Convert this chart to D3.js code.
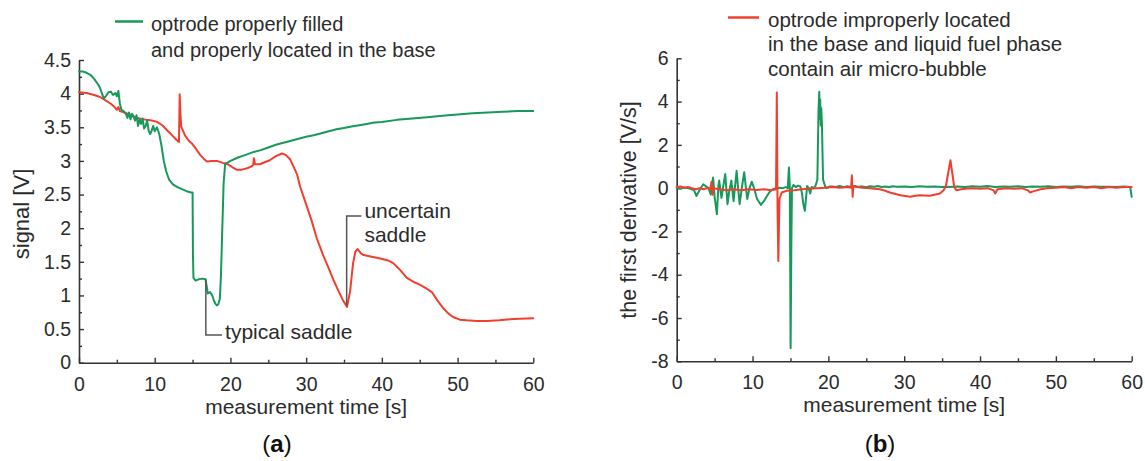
<!DOCTYPE html>
<html>
<head>
<meta charset="utf-8">
<script src="https://cdn.jsdelivr.net/npm/d3@7"></script>
<style>
  html, body { margin: 0; padding: 0; background: #fff; }
  svg { display: block; }
  text { font-family: "Liberation Sans", Arial, sans-serif; fill: #2b2b2b; }
</style>
</head>
<body>
<svg id="chart" width="1145" height="461"></svg>
<script>
// ---------- DATA ----------
const xTicksMajor = [0, 10, 20, 30, 40, 50, 60];
const xTicksMinor = [5, 15, 25, 35, 45, 55];
const signalTicks = [0, 0.5, 1, 1.5, 2, 2.5, 3, 3.5, 4, 4.5];
const signalTickLabels = ["0", "0.5", "1", "1.5", "2", "2.5", "3", "3.5", "4", "4.5"];
const signalMinor = [0.25, 0.75, 1.25, 1.75, 2.25, 2.75, 3.25, 3.75, 4.25];
const derivTicks = [-8, -6, -4, -2, 0, 2, 4, 6];
const derivTickLabels = ["-8", "-6", "-4", "-2", "0", "2", "4", "6"];
const derivMinor = [-7, -5, -3, -1, 1, 3, 5];

const legendGreen = ["optrode properly filled", "and properly located in the base"];
const legendRed = ["optrode improperly located", "in the base and liquid fuel phase", "contain air micro-bubble"];
const xTitle = "measurement time [s]";
const yTitleA = "signal [V]";
const yTitleB = "the first derivative [V/s]";

// signal [V] vs time [s] — optrode properly filled (green)
const signalGreen = [
[0,4.33],[0.5,4.33],[1,4.31],[1.5,4.28],[2,4.22],[2.5,4.14],[2.8,4.08],[3.1,3.98],[3.3,3.93],[3.6,3.97],[3.9,4.02],[4.2,4.03],[4.5,3.98],[4.8,4.01],[5.0,3.96],[5.2,4.04],[5.4,3.85],[5.6,3.76],[5.9,3.74],[6.2,3.70],[6.4,3.64],[6.6,3.72],[6.8,3.62],[7.0,3.70],[7.2,3.66],[7.4,3.60],[7.6,3.68],[7.8,3.52],[8.0,3.62],[8.2,3.55],[8.4,3.63],[8.6,3.48],[8.8,3.52],[9.0,3.60],[9.2,3.45],[9.4,3.40],[9.6,3.45],[9.8,3.52],[10.0,3.44],[10.3,3.50],[10.6,3.40],[10.9,3.22],[11.2,3.0],[11.5,2.85],[11.9,2.72],[12.4,2.65],[13,2.61],[13.6,2.58],[14.2,2.55],[14.8,2.53],[15.0,2.53],[15.05,1.6],[15.12,1.26],[15.4,1.22],[15.8,1.24],[16.3,1.25],[16.7,1.24],[16.85,1.15],[17.0,1.03],[17.3,1.05],[17.6,1.0],[17.8,0.93],[18.0,0.88],[18.2,0.85],[18.4,0.87],[18.6,0.95],[18.75,1.3],[18.9,1.9],[19.1,2.67],[19.3,2.95],[19.6,2.97],[20,3.0],[21,3.05],[22,3.09],[23,3.13],[24,3.16],[25,3.2],[26,3.24],[27,3.27],[28,3.30],[29,3.33],[30,3.36],[31,3.38],[32,3.41],[33,3.44],[34,3.47],[35,3.49],[36,3.51],[37,3.53],[38,3.55],[39,3.57],[40,3.58],[42,3.61],[44,3.63],[46,3.65],[48,3.67],[50,3.69],[52,3.71],[54,3.72],[56,3.73],[58,3.74],[60,3.74]
];

// signal [V] vs time [s] — optrode improperly located (red)
const signalRed = [
[0,4.02],[1,4.01],[2,3.98],[2.8,3.95],[3.5,3.90],[4.2,3.85],[4.7,3.80],[5.0,3.76],[5.2,3.80],[5.4,3.74],[6,3.72],[7.2,3.66],[8,3.63],[8.9,3.61],[9.6,3.60],[10.3,3.58],[11,3.53],[11.6,3.46],[12.3,3.38],[12.9,3.31],[13.2,3.28],[13.3,3.99],[13.4,3.7],[13.5,3.51],[14,3.38],[14.5,3.30],[14.9,3.26],[15.5,3.17],[16,3.09],[16.5,3.03],[16.9,2.99],[17.5,3.0],[18.2,3.0],[19,2.97],[19.5,2.96],[20.2,2.91],[20.8,2.87],[21.5,2.87],[22.2,2.89],[22.8,2.92],[23.0,2.94],[23.1,3.04],[23.25,2.95],[23.9,2.95],[24.5,2.98],[25.2,3.01],[26,3.07],[26.8,3.11],[27.3,3.09],[27.9,3.02],[28.4,2.90],[28.8,2.80],[29.2,2.62],[30.1,2.32],[30.7,2.12],[31.4,1.85],[32.3,1.58],[33.0,1.40],[33.6,1.23],[34.3,1.06],[34.9,0.92],[35.4,0.83],[35.8,1.06],[36.2,1.48],[36.5,1.65],[36.8,1.69],[37.2,1.63],[37.6,1.60],[38.5,1.58],[39.8,1.55],[40.8,1.52],[41.5,1.48],[42.4,1.38],[43.3,1.26],[44.2,1.20],[45.0,1.16],[45.8,1.11],[46.6,1.05],[47.3,0.93],[48.1,0.81],[48.8,0.73],[49.4,0.68],[50.3,0.64],[51.2,0.63],[52.5,0.62],[53.9,0.62],[55.5,0.63],[57.4,0.65],[60,0.66]
];

// first derivative [V/s] — green
const derivGreen = [
[0,0.02],[0.5,-0.02],[1,0.03],[1.5,0.0],[2,-0.05],[2.3,-0.1],[2.6,-0.36],[3.0,-0.1],[3.5,0.18],[4.0,0.05],[4.2,0.0],[4.5,-0.3],[4.8,0.49],[5.0,-0.4],[5.3,-1.2],[5.5,0.1],[5.6,0.35],[5.9,-0.45],[6.1,0.0],[6.4,0.65],[6.7,-0.74],[6.9,-0.2],[7.2,0.35],[7.5,-0.6],[7.7,0.1],[7.9,0.8],[8.1,0.0],[8.3,-0.74],[8.6,0.05],[8.9,0.74],[9.1,0.1],[9.3,-0.5],[9.6,0.0],[9.9,0.3],[10.2,0.0],[10.6,-0.5],[11.1,-0.77],[11.5,-0.6],[11.9,-0.36],[12.3,-0.15],[12.7,-0.05],[13.1,0.0],[13.5,0.02],[14.0,0.0],[14.4,0.05],[14.65,0.0],[14.8,0.95],[14.92,0.0],[15.02,-7.4],[15.12,-2.5],[15.2,0.0],[15.4,0.15],[15.7,0.05],[16.0,0.12],[16.3,0.08],[16.5,-0.2],[16.7,-0.74],[16.9,-1.05],[17.2,0.1],[17.4,0.0],[17.6,-0.25],[17.8,0.05],[18.0,0.0],[18.3,0.1],[18.55,0.4],[18.7,3.6],[18.8,4.45],[18.85,3.2],[18.92,4.1],[19.0,2.9],[19.06,3.7],[19.15,3.0],[19.3,0.4],[19.6,0.05],[19.8,0.0],[20.2,0.08],
[20.5,0.08],[21,0.05],[21.5,0.1],[22,0.04],[22.5,0.09],[23,0.05],[23.5,0.1],[24,0.06],[24.5,0.08],[25,0.04],[25.5,0.09],[26,0.06],[26.5,0.1],[27,0.05],[27.5,0.08],[28,0.05],[28.5,0.09],[29,0.06],[30,0.08],[31,0.05],[32,0.09],[33,0.06],[34,0.08],[35,0.05],[35.5,0.07],[36,0.05],[37,0.08],[38,0.05],[39,0.09],[40,0.06],[41,0.1],[42,0.05],[43,0.08],[44,0.06],[45,0.09],[46,0.05],[47,0.08],[48,0.06],[49,0.09],[50,0.05],[51,0.08],[52,0.06],[53,0.09],[54,0.05],[55,0.08],[56,0.06],[57,0.07],[58,0.05],[59,0.08],[59.8,0.05],[60,-0.4]
];

// first derivative [V/s] — red
const derivRed = [
[0,0.05],[0.5,0.08],[1,0.02],[1.5,0.05],[2,0.0],[2.6,-0.05],[3,0.0],[3.5,-0.05],[4,0.0],[4.4,-0.05],[4.6,0.3],[4.75,-0.3],[4.9,0.0],[5.5,-0.05],[6.5,-0.1],[7.5,-0.05],[8.5,-0.1],[9.5,-0.05],[10.5,-0.08],[11.5,-0.05],[12.5,-0.1],[13.1,-0.05],[13.2,4.42],[13.3,-1.0],[13.4,-3.36],[13.55,-0.5],[13.85,-0.2],[14.5,-0.12],[15.5,-0.1],[16.5,-0.05],[17.5,-0.02],[18.5,0.0],[19.5,0.02],[20.5,0.05],[21.5,0.02],[22.5,0.05],[23.0,0.02],[23.1,0.6],[23.2,-0.4],[23.3,0.1],[23.7,0.05],[24.5,0.02],[25.5,0.0],[26.8,-0.05],[27.5,-0.12],[28.1,-0.2],[29.5,-0.33],[30.8,-0.4],[31.5,-0.35],[32.1,-0.33],[33.4,-0.35],[34.7,-0.25],[35.2,-0.1],[35.5,0.1],[36.1,1.29],[36.6,0.05],[36.9,-0.1],[37.5,-0.05],[38.3,-0.02],[39,0.0],[40,-0.03],[41,0.0],[41.8,-0.1],[42,-0.25],[42.3,-0.05],[43.5,0.0],[44.5,-0.03],[45.5,0.0],[46.3,-0.1],[46.6,-0.2],[47,-0.15],[48,-0.05],[48.8,0.0],[50,0.02],[51,0.05],[52,0.0],[53,0.05],[54,0.02],[55,0.05],[56,0.0],[57,0.05],[58,0.02],[59,0.05],[60,0.05]
];

// annotation anchors (data coordinates)
const typicalSaddle = { t: 16.75, v: 1.24, cornerV: 0.41, endT: 18.9, label: ["typical saddle"] };
const uncertainSaddle = { t: 35.35, v: 0.85, cornerV: 2.18, endT: 37.3, label: ["uncertain", "saddle"] };

// ---------- STYLE ----------
const GREEN = "#16995a";
const RED = "#f23e2f";
const AXIS = "#333";

const svg = d3.select("#chart");
svg.append("rect").attr("width", 1145).attr("height", 461).attr("fill", "#fff");

function panel(opt) {
  const g = svg.append("g");
  const x = d3.scaleLinear().domain([0, 60]).range(opt.xRange);
  const y = d3.scaleLinear().domain(opt.yDomain).range(opt.yRange);

  // x axis
  const xAxis = d3.axisBottom(x).tickValues(xTicksMajor).tickSizeInner(-5).tickSizeOuter(0).tickPadding(14).tickFormat(d3.format("d"));
  g.append("g").attr("transform", `translate(0,${opt.yRange[0]})`).call(xAxis);
  g.append("g").attr("transform", `translate(0,${opt.yRange[0]})`)
    .call(d3.axisBottom(x).tickValues(xTicksMinor).tickSizeInner(-3).tickSizeOuter(0).tickFormat(""))
    .select(".domain").remove();

  // y axis
  const yAxis = d3.axisLeft(y).tickValues(opt.yTicks).tickSizeInner(-5).tickSizeOuter(0).tickPadding(8)
    .tickFormat(opt.yFormat);
  g.append("g").attr("transform", `translate(${opt.xRange[0]},0)`).call(yAxis);
  g.append("g").attr("transform", `translate(${opt.xRange[0]},0)`)
    .call(d3.axisLeft(y).tickValues(opt.yMinor).tickSizeInner(-3).tickSizeOuter(0).tickFormat(""))
    .select(".domain").remove();

  g.selectAll(".domain").attr("stroke", AXIS).attr("stroke-width", 1.6);
  g.selectAll(".tick line").attr("stroke", AXIS).attr("stroke-width", 1.4);
  g.selectAll(".tick text").attr("font-size", 19.5).attr("fill", "#2b2b2b")
    .attr("font-family", "'Liberation Sans', Arial, sans-serif");

  // series
  const line = d3.line().x(d => x(d[0])).y(d => y(d[1]));
  opt.series.forEach(s => {
    g.append("path").datum(s.data).attr("d", line)
      .attr("fill", "none").attr("stroke", s.color).attr("stroke-width", 2)
      .attr("stroke-linejoin", "round").attr("stroke-linecap", "round");
  });

  // axis titles
  g.append("text").attr("x", (opt.xRange[0] + opt.xRange[1]) / 2).attr("y", opt.yRange[0] + 51)
    .attr("text-anchor", "middle").attr("font-size", 21).text(xTitle);
  g.append("text").attr("transform", `translate(${opt.yTitleX},${opt.yTitleY}) rotate(-90)`)
    .attr("text-anchor", "middle").attr("font-size", opt.yTitleSize).text(opt.yTitle);

  // panel label
  const pl = g.append("text").attr("x", opt.panelX).attr("y", 452).attr("text-anchor", "middle")
    .attr("font-family", "'Liberation Serif', 'Times New Roman', serif").attr("font-size", 24).style("fill", "#111");
  pl.append("tspan").text("(");
  pl.append("tspan").attr("font-weight", "bold").text(opt.panelLetter);
  pl.append("tspan").text(")");

  // legend
  const lg = g.append("g");
  lg.append("line").attr("x1", opt.legend.x1).attr("x2", opt.legend.x2)
    .attr("y1", opt.legend.ly).attr("y2", opt.legend.ly)
    .attr("stroke", opt.legend.color).attr("stroke-width", 2.5);
  opt.legend.lines.forEach((t, i) => {
    lg.append("text").attr("x", opt.legend.tx).attr("y", opt.legend.ty + i * opt.legend.dy)
      .attr("font-size", opt.legend.fs).text(t);
  });

  return { g, x, y };
}

const A = panel({
  xRange: [79, 533.3], yDomain: [0, 4.5], yRange: [362.7, 60],
  yTicks: signalTicks, yMinor: signalMinor,
  yFormat: (d, i) => signalTickLabels[i],
  series: [{ data: signalRed, color: RED }, { data: signalGreen, color: GREEN }],
  yTitle: yTitleA, yTitleX: 29, yTitleY: 214, yTitleSize: 22,
  panelX: 277, panelLetter: "a",
  legend: { x1: 115, x2: 143, ly: 21.5, color: GREEN, tx: 151, ty: 30.5, dy: 26, fs: 20, lines: legendGreen }
});

const B = panel({
  xRange: [676.7, 1131.7], yDomain: [-8, 6], yRange: [361.3, 58.3],
  yTicks: derivTicks, yMinor: derivMinor,
  yFormat: (d, i) => derivTickLabels[i],
  series: [{ data: derivGreen, color: GREEN }, { data: derivRed, color: RED }],
  yTitle: yTitleB, yTitleX: 636, yTitleY: 210, yTitleSize: 21.5,
  panelX: 880, panelLetter: "b",
  legend: { x1: 728, x2: 759, ly: 17.5, color: RED, tx: 768, ty: 26.5, dy: 24.7, fs: 20.5, lines: legendRed }
});

// annotations (panel a)
function saddle(p, a, anchorRight) {
  const px = p.x(a.t), py = p.y(a.v), cy = p.y(a.cornerV), ex = p.x(a.endT);
  p.g.append("path").attr("d", `M${px},${py}V${cy}H${ex}`)
    .attr("fill", "none").attr("stroke", "#555").attr("stroke-width", 1.5);
  a.label.forEach((t, i) => {
    p.g.append("text").attr("x", ex + 3).attr("y", cy + (anchorRight ? 2 : 3.5) + i * 23.5)
      .attr("font-size", 21).text(t);
  });
}
saddle(A, typicalSaddle, false);
saddle(A, uncertainSaddle, true);
</script>
</body>
</html>
